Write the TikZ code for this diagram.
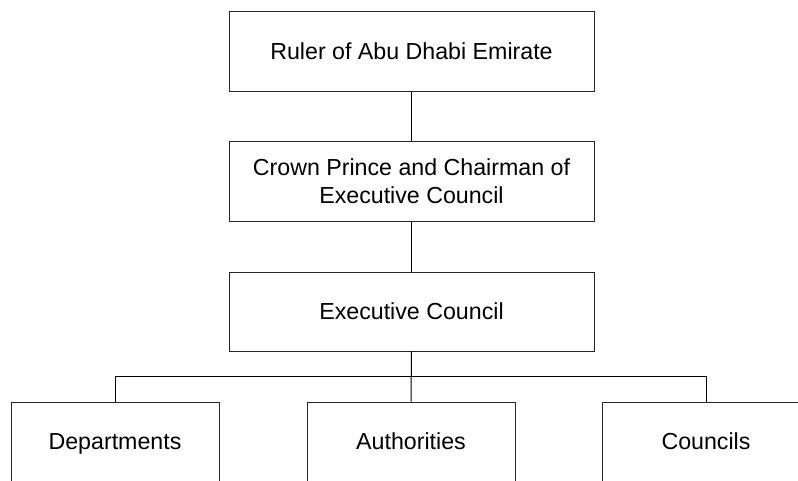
\documentclass[tikz,border=0pt]{standalone}
\usepackage{fontspec}
\setmainfont{Liberation Sans}
\begin{document}
\begin{tikzpicture}[x=1pt,y=-1pt,
  box/.style={draw=black!85,line width=1pt,rectangle,inner sep=0pt,align=center,
    font=\fontsize{23.2}{27.5}\selectfont},
  oneline/.style={text height=16.6pt,text depth=0pt},
  wide/.style={box,minimum width=365pt,minimum height=80pt},
  leaf/.style={box,oneline,minimum width=208pt,minimum height=79pt},
  conn/.style={draw=black,line width=1pt}]
\useasboundingbox (0,0) rectangle (798,480);
\clip (0,0) rectangle (798,480);
\node[wide,oneline] (ruler) at (411.5,51) {Ruler of Abu Dhabi Emirate};
\node[wide] (crown) at (411.5,181) {Crown Prince and Chairman of\\Executive Council};
\node[wide,oneline,minimum height=79pt] (exec) at (411.5,311.5) {Executive Council};
\node[leaf] (dept) at (115,441.5) {Departments};
\node[leaf] (auth) at (411,441.5) {Authorities};
\node[leaf] (coun) at (706,441.5) {Councils};
\coordinate (bus) at (411,376.5);
\draw[conn] (ruler.south) -- (crown.north);
\draw[conn] (crown.south) -- (exec.north);
\draw[conn] (exec.south) -- (auth.north);
\draw[conn] (dept.north) |- (bus) -| (coun.north);
\end{tikzpicture}
\end{document}
